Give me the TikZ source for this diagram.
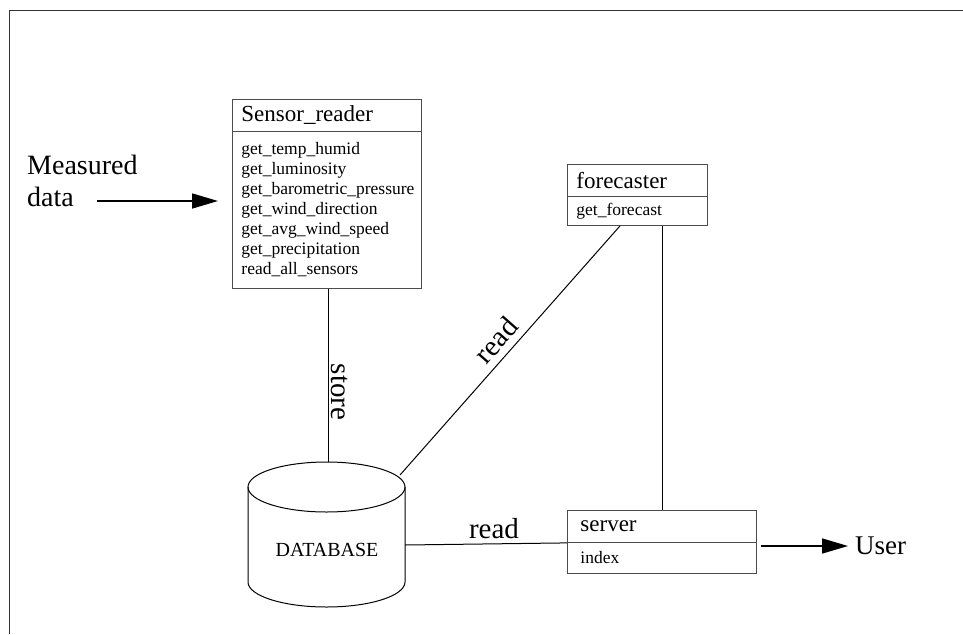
\documentclass[tikz,border=0pt]{standalone}
\usepackage{fontspec}
\setmainfont{Liberation Serif}
\usetikzlibrary{arrows.meta}
\begin{document}
\begin{tikzpicture}[x=1pt,y=-1pt,
  umlbox/.style={draw=black!70, line width=0.9pt, anchor=north west, inner xsep=9pt, inner ysep=0pt, align=left},
  hdr/.style={umlbox, font=\fontsize{23}{26}\selectfont},
  mth/.style={umlbox, font=\fontsize{17.5}{20}\selectfont},
  conn/.style={draw=black, line width=1pt},
  flow/.style={draw=black, line width=1.6pt, -{Triangle[length=26pt,width=15pt]}},
  lbl/.style={inner sep=0pt, font=\fontsize{29}{32}\selectfont},
]
\useasboundingbox (0,0) rectangle (963,634);
\draw[line width=1pt, black!80] (9,634) -- (9,11) -- (963,11);

% Sensor_reader
\node[hdr, text width=171pt, minimum height=32pt] (srh) at (232,99) {Sensor\_reader};
\node[mth, text width=171pt, minimum height=157pt] (srb) at (232,131) {get\_temp\_humid\\get\_luminosity\\get\_barometric\_pressure\\get\_wind\_direction\\get\_avg\_wind\_speed\\get\_precipitation\\read\_all\_sensors};

% forecaster
\node[hdr, text width=122pt, minimum height=32pt] (fch) at (567,164) {forecaster};
\node[mth, text width=122pt, minimum height=29pt] (fcb) at (567,196) {get\_forecast};

% server
\node[hdr, inner xsep=13pt, text width=163pt, minimum height=32pt] (svh) at (567,510) {server};
\node[mth, inner xsep=13pt, text width=163pt, minimum height=31pt] (svb) at (567,542) {index};

% database cylinder
\draw[line width=1pt] (326.5,487) ellipse [x radius=78.5, y radius=25];
\draw[line width=1pt] (248,487) -- (248,582) arc[start angle=180, end angle=0, x radius=78.5, y radius=25] -- (405,487);
\node[inner sep=0pt, font=\fontsize{20}{22}\selectfont] (db) at (327,550) {DATABASE};
\coordinate (dbtop) at (328,462);
\coordinate (dbne) at (400,475);
\coordinate (dbe) at (405,545);

% measured data
\node[lbl, anchor=west, align=left, font=\fontsize{28}{32}\selectfont] (meas) at (27,181) {Measured\\data};
\coordinate (msrc) at (97,201);
\coordinate (mdst) at (218,201);
\draw[flow] (msrc) -- (mdst);

% user
\node[lbl, anchor=west, font=\fontsize{27}{30}\selectfont] (user) at (855,546) {User};
\coordinate (usrc) at (761,546);
\draw[flow] (usrc) -- ([xshift=-7pt]user.west);

% connectors
\draw[conn] (srb.south -| dbtop) -- (dbtop);
\node[lbl, rotate=-90] (lstore) at (340,392) {store};
\draw[conn] ([xshift=53pt]fcb.south west) -- (dbne);
\node[lbl, rotate=48.7] (lread1) at (496,340) {read};
\draw[conn] ([xshift=95pt]fcb.south west) -- ([xshift=95pt]svh.north west);
\draw[conn] (dbe) -- (svh.south west);
\node[lbl] (lread2) at (494,529) {read};
\end{tikzpicture}
\end{document}
